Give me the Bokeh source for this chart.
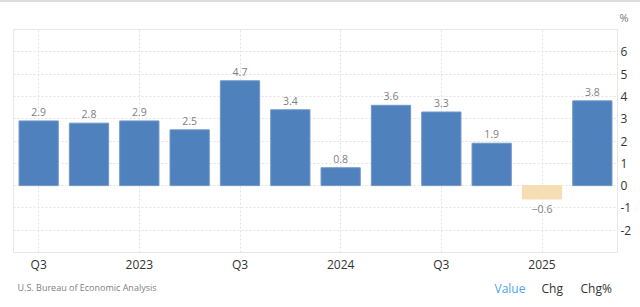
from bokeh.plotting import figure
from bokeh.layouts import column
from bokeh.models import ColumnDataSource, Range1d, LinearAxis, FixedTicker, Div, Title
from bokeh.embed import file_html
from bokeh.resources import INLINE
from bokeh.core.properties import value

quarters = ["2022Q3", "2022Q4", "2023Q1", "2023Q2", "2023Q3", "2023Q4",
            "2024Q1", "2024Q2", "2024Q3", "2024Q4", "2025Q1", "2025Q2"]
values = [2.9, 2.8, 2.9, 2.5, 4.7, 3.4, 0.8, 3.6, 3.3, 1.9, -0.6, 3.8]
tick_positions = [0, 2, 4, 6, 8, 10]
tick_labels = ["Q3", "2023", "Q3", "2024", "Q3", "2025"]
y_ticks = [-2, -1, 0, 1, 2, 3, 4, 5, 6]
unit_label = "%"
source_note = "U.S. Bureau of Economic Analysis"
footer_items = ["Value", "Chg", "Chg%"]

BLUE = "#4F81BD"
NEG = "#F5DEB3"
FONT = "Open Sans"

W = 640
TOPLINE = 2
MAIN_H = 273
FOOT_H = 307 - TOPLINE - MAIN_H   # 32
FL, FR = 13, 617           # frame left/right (canvas px)
FT = 26                    # frame top within main figure  (canvas y = 28)
FB = 250                   # frame bottom within main figure (canvas y = 252)

idx = list(range(len(values)))
colors = [BLUE if v >= 0 else NEG for v in values]
lines = ["#6F97C9" if v >= 0 else NEG for v in values]
labels = [f"{v:.1f}".replace("-", "\u2212") for v in values]
bottoms = [0.0] * len(values)

src = ColumnDataSource(dict(x=idx, top=values, bottom=bottoms, color=colors,
                            lc=lines, q=quarters))
pos = ColumnDataSource(dict(x=[i for i in idx if values[i] >= 0],
                            y=[values[i] for i in idx if values[i] >= 0],
                            label=[labels[i] for i in idx if values[i] >= 0]))
neg = ColumnDataSource(dict(x=[i for i in idx if values[i] < 0],
                            y=[values[i] for i in idx if values[i] < 0],
                            label=[labels[i] for i in idx if values[i] < 0]))

p = figure(width=W, height=MAIN_H, output_backend="svg", toolbar_location=None,
           x_range=Range1d(-0.5, 11.5), y_range=Range1d(-3, 7),
           min_border_left=FL, min_border_top=FT, min_border_right=W - FR,
           min_border_bottom=MAIN_H - FB, y_axis_location=None, margin=0)
p.outline_line_color = "#e6e6e6"
p.background_fill_color = "white"
p.border_fill_color = "white"

p.vbar(x="x", top="top", bottom="bottom", width=0.78, fill_color="color",
       line_color="lc", line_width=1, source=src)

p.text(x="x", y="y", text="label", source=pos, text_align="center",
       text_baseline="bottom", y_offset=-5, text_color="#808080",
       text_font=value(FONT), text_font_size="10.5px")
p.text(x="x", y="y", text="label", source=neg, text_align="center",
       text_baseline="top", y_offset=6, text_color="#808080",
       text_font=value(FONT), text_font_size="10.5px")

# x axis
xa = p.xaxis[0]
xa.ticker = FixedTicker(ticks=tick_positions)
xa.major_label_overrides = {t: l for t, l in zip(tick_positions, tick_labels)}
xa.axis_line_color = None
xa.major_tick_line_color = None
xa.minor_tick_line_color = None
xa.major_tick_out = 0
xa.major_tick_in = 0
xa.major_label_standoff = 3
xa.major_label_text_font = FONT
xa.major_label_text_font_size = "12px"
xa.major_label_text_color = "#333333"

# right y axis
ya = LinearAxis(ticker=FixedTicker(ticks=y_ticks))
ya.axis_line_color = None
ya.major_tick_line_color = None
ya.minor_tick_line_color = None
ya.major_tick_out = 0
ya.major_tick_in = 0
ya.major_label_standoff = 3
ya.major_label_text_font = FONT
ya.major_label_text_font_size = "12px"
ya.major_label_text_color = "#333333"
ya.major_label_overrides = {t: str(t) for t in y_ticks}
p.add_layout(ya, "right")

p.xgrid.ticker = FixedTicker(ticks=tick_positions)
p.xgrid.grid_line_color = "#e3e3e3"
p.xgrid.grid_line_dash = "2 2"
p.ygrid.ticker = FixedTicker(ticks=list(range(-3, 8)))
p.ygrid.grid_line_color = "#e3e3e3"
p.ygrid.grid_line_dash = "2 2"

# unit marker above the right axis
p.add_layout(Title(text=unit_label, align="left", offset=619 - FL, standoff=10,
                   text_font=FONT, text_font_size="11px",
                   text_font_style="normal", text_color="#777777"), "above")

# footer strip: frame spans the same pixels as the chart frame
f = figure(width=W, height=FOOT_H, output_backend="svg", toolbar_location=None,
           x_range=Range1d(FL, FR), y_range=Range1d(0, FOOT_H),
           min_border=0, min_border_left=FL, min_border_right=W - FR,
           margin=0, x_axis_location=None, y_axis_location=None)
f.outline_line_color = None
f.xgrid.visible = False
f.ygrid.visible = False
f.text(x=[17], y=[FOOT_H - 12], text=[source_note], text_baseline="middle",
       text_color="#808080", text_font=value(FONT), text_font_size="9px")
f.text(x=[494, 541, 580], y=[FOOT_H - 13] * 3, text=footer_items,
       text_baseline="middle", text_color=["#4DA3EE", "#333333", "#333333"],
       text_font=value(FONT), text_font_size="12px")

top = Div(width=W, height=TOPLINE, margin=0,
          styles={"background-color": "#dddddd"})

layout = column(top, p, f, spacing=0, margin=0)
open("out.html", "w").write(file_html(layout, INLINE))
